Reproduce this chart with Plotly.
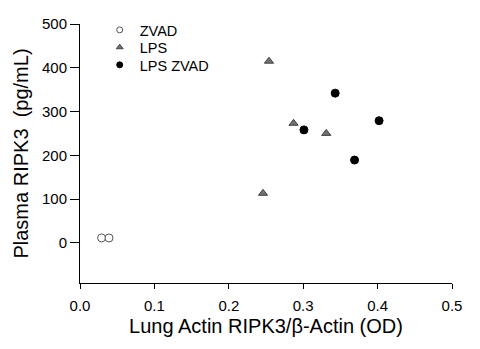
import plotly.graph_objects as go

zvad_x = [0.029, 0.039]
zvad_y = [11, 11]
lps_x = [0.254, 0.287, 0.331, 0.246]
lps_y = [415, 273, 250, 113]
lpsz_x = [0.343, 0.402, 0.301, 0.369]
lpsz_y = [342, 279, 258, 189]

series = [
    ("ZVAD", zvad_x, zvad_y, "circle", "white", "#555555"),
    ("LPS", lps_x, lps_y, "triangle-up", "#707070", "#444444"),
    ("LPS ZVAD", lpsz_x, lpsz_y, "circle", "black", "black"),
]
legend_ids = ["legend", "legend2", "legend3"]
legend_rows = [0.977, 0.910, 0.842]

fig = go.Figure()
for name, xs, ys, sym, fill, edge in series:
    fig.add_trace(go.Scatter(x=xs, y=ys, mode="markers", name=name, showlegend=False,
                             marker=dict(symbol=sym, size=8, color=fill,
                                         line=dict(color=edge, width=1))))
# legend entries with smaller symbols, one legend per row
for (name, xs, ys, sym, fill, edge), lid in zip(series, legend_ids):
    fig.add_trace(go.Scatter(x=[None], y=[None], mode="markers", name=name, legend=lid,
                             marker=dict(symbol=sym, size=6, color=fill,
                                         line=dict(color=edge, width=1))))

legend_style = dict(xanchor="left", yanchor="middle", bgcolor="rgba(0,0,0,0)",
                    font=dict(size=14.5), itemsizing="trace", x=0.053)
layout_legends = {lid: dict(legend_style, y=yy) for lid, yy in zip(legend_ids, legend_rows)}

fig.update_layout(
    width=480, height=349,
    margin=dict(l=80, r=28, t=24, b=66),
    paper_bgcolor="white", plot_bgcolor="white",
    font=dict(family="Liberation Sans, Arial", size=15, color="black"),
    showlegend=True,
    xaxis=dict(range=[0, 0.5], tickvals=[0, 0.1, 0.2, 0.3, 0.4, 0.5],
               ticktext=["0.0", "0.1", "0.2", "0.3", "0.4", "0.5"],
               showgrid=False, zeroline=False, showline=True, linecolor="black",
               linewidth=1, ticks="outside", ticklen=5, tickcolor="black",
               tickfont=dict(size=15), ticklabelstandoff=4,
               title=dict(text="Lung Actin RIPK3/β-Actin (OD)", font=dict(size=20), standoff=5)),
    yaxis=dict(range=[-92, 500], tickvals=[0, 100, 200, 300, 400, 500],
               showgrid=False, zeroline=False, showline=True, linecolor="black",
               linewidth=1, ticks="outside", ticklen=9, tickcolor="black",
               tickfont=dict(size=15),
               title=dict(text="Plasma RIPK3\u00a0\u00a0(pg/mL)", font=dict(size=20), standoff=7)),
    **layout_legends,
)

fig.write_html("out.html")
